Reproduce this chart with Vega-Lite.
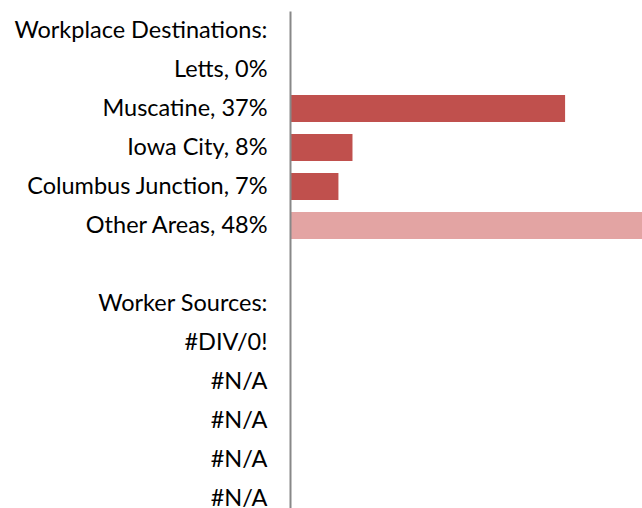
{
  "$schema": "https://vega.github.io/schema/vega-lite/v6.json",
  "autosize": {"type": "none"},
  "padding": {"left": 290, "top": 11, "right": 0, "bottom": 0},
  "width": 352,
  "height": 507,
  "background": "white",
  "config": {"view": {"stroke": null}},
  "data": {
    "values": [
      {"category": "Workplace Destinations:", "share": null, "kind": "solid"},
      {"category": "Letts, 0%", "share": 0, "kind": "solid"},
      {"category": "Muscatine, 37%", "share": 37.2, "kind": "solid"},
      {"category": "Iowa City, 8%", "share": 8.45, "kind": "solid"},
      {"category": "Columbus Junction, 7%", "share": 6.55, "kind": "solid"},
      {"category": "Other Areas, 48%", "share": 47.8, "kind": "pattern"},
      {"category": " ", "share": null, "kind": "solid"},
      {"category": "Worker Sources:", "share": null, "kind": "solid"},
      {"category": "#DIV/0!", "share": null, "kind": "solid"},
      {"category": "#N/A", "share": null, "kind": "solid"},
      {"category": "#N/A\u200b", "share": null, "kind": "solid"},
      {"category": "#N/A\u200b\u200b", "share": null, "kind": "solid"},
      {"category": "#N/A\u200b\u200b\u200b", "share": null, "kind": "solid"}
    ]
  },
  "mark": {"type": "bar", "clip": true, "invalid": "show"},
  "encoding": {
    "y": {
      "field": "category",
      "type": "nominal",
      "sort": null,
      "scale": {"paddingInner": 0.31, "paddingOuter": 0.155},
      "axis": {
        "title": null,
        "ticks": false,
        "labelPadding": 23,
        "labelFont": "Lato",
        "labelFontSize": 23.5,
        "labelColor": "#000000",
        "domainColor": "#888888",
        "domainWidth": 2,
        "labelLimit": 400,
        "zindex": 1
      }
    },
    "x": {
      "field": "share",
      "type": "quantitative",
      "scale": {"domain": [0, 47.6], "nice": false, "zero": true},
      "axis": null
    },
    "color": {
      "field": "kind",
      "type": "nominal",
      "scale": {"domain": ["solid", "pattern"], "range": ["#C0504D", "#E3A4A3"]},
      "legend": null
    }
  }
}
